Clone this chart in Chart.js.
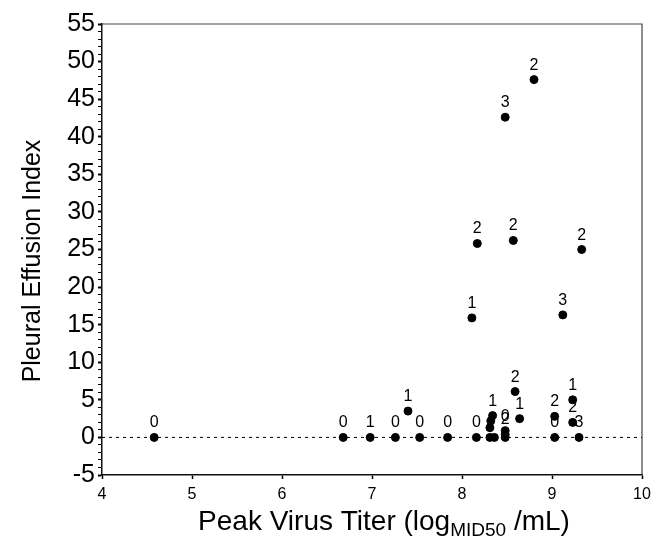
<!DOCTYPE html>
<html>
<head>
<meta charset="utf-8">
<script src="https://cdn.jsdelivr.net/npm/chart.js@4.4.1/dist/chart.umd.min.js"></script>
<style>
  html, body { margin: 0; padding: 0; background: #fff; }
  #wrap { width: 659px; height: 540px; }
</style>
</head>
<body>
<div id="wrap"><canvas id="chart" width="659" height="540"></canvas></div>
<script>
// peak titer (log MID50/mL), pleural effusion index, and the score printed above each dot
const xValues = [4.58, 6.68, 6.98, 7.26, 7.53, 7.84, 8.16, 7.40, 8.11, 8.17,
                 8.48, 8.80, 8.57, 9.12, 9.33, 8.59, 8.64, 9.23, 9.23, 9.30,
                 9.03, 9.03, 8.34, 8.32, 8.31, 8.48, 8.48, 8.31, 8.36, 8.48];
const yValues = [0, 0, 0, 0, 0, 0, 0, 3.5, 15.9, 25.8,
                 42.6, 47.6, 26.2, 16.3, 25.0, 6.1, 2.5, 5.0, 2.0, 0,
                 2.8, 0, 2.9, 2.2, 1.3, 0.9, 0.4, 0, 0, 0];
const scoreLabels = ['0', '0', '1', '0', '0', '0', '0', '1', '1', '2',
                     '3', '2', '2', '3', '2', '2', '1', '1', '2', '3',
                     '2', '0', '1', '', '', '0', '2', '', '', ''];

const xTickValues = [4, 5, 6, 7, 8, 9, 10];
const yTickValues = [-5, 0, 5, 10, 15, 20, 25, 30, 35, 40, 45, 50, 55];

const FONT = '"Liberation Sans", Arial, Helvetica, sans-serif';

const points = xValues.map((x, i) => ({ x: x, y: yValues[i] }));

const overlay = {
  id: 'overlay',
  beforeDatasetsDraw(chart) {
    const ctx = chart.ctx;
    const area = chart.chartArea;
    const y0 = chart.scales.y.getPixelForValue(0);
    ctx.save();
    // frame on the top and right
    ctx.strokeStyle = '#444';
    ctx.lineWidth = 1.2;
    ctx.beginPath();
    ctx.moveTo(area.left, area.top);
    ctx.lineTo(area.right, area.top);
    ctx.lineTo(area.right, area.bottom);
    ctx.stroke();
    // dotted zero line
    ctx.strokeStyle = '#000';
    ctx.lineWidth = 1;
    ctx.setLineDash([3, 4]);
    ctx.beginPath();
    ctx.moveTo(area.left, y0);
    ctx.lineTo(area.right, y0);
    ctx.stroke();
    ctx.restore();
  },
  afterDatasetsDraw(chart) {
    const ctx = chart.ctx;
    const meta = chart.getDatasetMeta(0);
    ctx.save();
    ctx.fillStyle = '#000';
    ctx.font = '16px ' + FONT;
    ctx.textAlign = 'center';
    ctx.textBaseline = 'alphabetic';
    meta.data.forEach((el, i) => {
      if (scoreLabels[i]) ctx.fillText(scoreLabels[i], el.x, el.y - 10);
    });
    ctx.restore();
  },
  afterDraw(chart) {
    const ctx = chart.ctx;
    ctx.save();
    ctx.fillStyle = '#000';
    // y title
    ctx.font = '25px ' + FONT;
    ctx.textAlign = 'center';
    ctx.textBaseline = 'middle';
    ctx.translate(33, 261);
    ctx.rotate(-Math.PI / 2);
    ctx.fillText('Pleural Effusion Index', 0, 0);
    ctx.restore();

    // x title with subscript
    ctx.save();
    ctx.fillStyle = '#000';
    ctx.textBaseline = 'alphabetic';
    ctx.textAlign = 'left';
    const mainFont = '28px ' + FONT;
    const subFont = '19px ' + FONT;
    const a = 'Peak Virus Titer (log', b = 'MID50', c = ' /mL)';
    ctx.font = mainFont;
    const wa = ctx.measureText(a).width, wc = ctx.measureText(c).width;
    ctx.font = subFont;
    const wb = ctx.measureText(b).width;
    let x = 384 - (wa + wb + wc) / 2;
    const base = 530;
    ctx.font = mainFont;
    ctx.fillText(a, x, base);
    x += wa;
    ctx.font = subFont;
    ctx.fillText(b, x, base + 6);
    x += wb;
    ctx.font = mainFont;
    ctx.fillText(c, x, base);
    ctx.restore();
  }
};

new Chart(document.getElementById('chart'), {
  type: 'scatter',
  data: {
    datasets: [{
      data: points,
      backgroundColor: '#000',
      borderColor: '#000',
      pointRadius: 4,
      pointHoverRadius: 4
    }]
  },
  options: {
    responsive: false,
    animation: false,
    layout: { padding: { left: 0, right: 17, top: 24, bottom: 0 } },
    plugins: { legend: { display: false }, tooltip: { enabled: false } },
    scales: {
      x: {
        type: 'linear',
        min: 4,
        max: 10,
        afterBuildTicks: (s) => { s.ticks = xTickValues.map(v => ({ value: v })); },
        afterFit: (s) => { s.height = 65; },
        border: { color: '#111', width: 1.5 },
        grid: { drawOnChartArea: false, drawTicks: true, tickLength: 4, color: '#000', tickWidth: 1.5 },
        ticks: {
          autoSkip: false,
          maxRotation: 0,
          padding: 6,
          color: '#000',
          font: { family: FONT, size: 16 },
          callback: (v) => String(v)
        }
      },
      y: {
        type: 'linear',
        min: -5,
        max: 55,
        afterBuildTicks: (s) => {
          const t = [];
          for (let v = -5; v <= 55; v++) t.push({ value: v });
          s.ticks = t;
        },
        afterFit: (s) => { s.width = 102; },
        border: { color: '#111', width: 1.5 },
        grid: {
          drawOnChartArea: false,
          drawTicks: true,
          tickLength: 4,
          color: '#000',
          tickWidth: (c) => (yTickValues.includes(c.tick.value) ? 2 : 1)
        },
        ticks: {
          autoSkip: false,
          padding: 3,
          color: '#000',
          font: { family: FONT, size: 25 },
          callback: (v) => (yTickValues.includes(v) ? String(v) : '')
        }
      }
    }
  },
  plugins: [overlay]
});
</script>
</body>
</html>
